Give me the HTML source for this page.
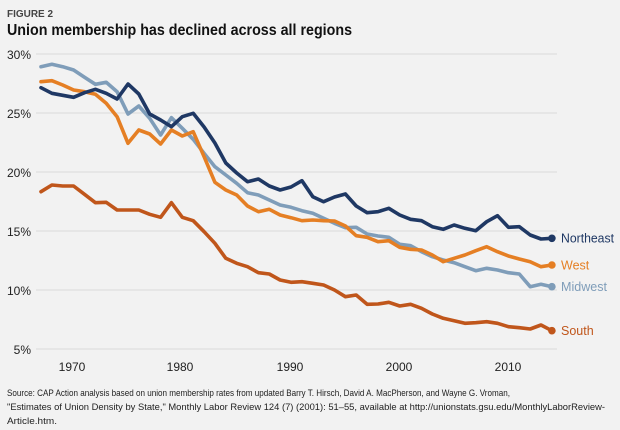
<!DOCTYPE html>
<html><head><meta charset="utf-8"><style>
html,body{margin:0;padding:0;background:#f2f2f2;}
svg{display:block;font-family:"Liberation Sans",sans-serif;}
</style></head><body>
<svg width="620" height="430" viewBox="0 0 620 430" xmlns="http://www.w3.org/2000/svg">
<rect width="620" height="430" fill="#f2f2f2"/>
<text x="7" y="17" font-size="10" font-weight="bold" fill="#444" textLength="46" lengthAdjust="spacingAndGlyphs">FIGURE 2</text>
<text x="7" y="35" font-size="16" font-weight="bold" fill="#111" textLength="345" lengthAdjust="spacingAndGlyphs">Union membership has declined across all regions</text>
<g stroke="#d9d9d9" stroke-width="1">
<line x1="36" y1="54" x2="557" y2="54"/><line x1="36" y1="113" x2="557" y2="113"/>
<line x1="36" y1="172" x2="557" y2="172"/><line x1="36" y1="231" x2="557" y2="231"/>
<line x1="36" y1="290" x2="557" y2="290"/><line x1="36" y1="349" x2="557" y2="349"/>
</g>
<g font-size="12" fill="#222" text-anchor="end">
<text x="31" y="59">30%</text><text x="31" y="118">25%</text><text x="31" y="177">20%</text>
<text x="31" y="236">15%</text><text x="31" y="295">10%</text><text x="31" y="354">5%</text>
</g>
<g font-size="12" fill="#222" text-anchor="middle">
<text x="72" y="371">1970</text><text x="180" y="371">1980</text><text x="290" y="371">1990</text>
<text x="399" y="371">2000</text><text x="508" y="371">2010</text>
</g>
<g fill="none" stroke-width="3.6" stroke-linejoin="round" stroke-linecap="round">
<polyline stroke="#c0561b" points="41,191.7 51.9,185 62.7,186 73.6,186 84.5,194.3 95.4,202.7 106.2,202.3 117.1,210 128,210 138.8,210 149.7,214.3 160.6,217.3 171.4,202.7 182.3,217.3 193.2,220.7 204.1,231.7 214.9,243.3 225.8,258.3 236.7,263.3 247.5,266.7 258.4,272.7 269.3,274 280.1,280 291,282.3 301.9,281.7 312.8,283.3 323.6,285 334.5,290 345.4,296.7 356.2,295 367.1,304.3 378,304 388.8,302.3 399.7,306 410.6,304.3 421.5,308.3 432.3,314 443.2,318.3 454.1,320.7 464.9,323.3 475.8,322.7 486.7,321.7 497.5,323.3 508.4,326.7 519.3,327.7 530.2,329 541,325 551.9,330.7"/>
<polyline stroke="#7f9db9" points="41,66.7 51.9,64.3 62.7,66.7 73.6,70 84.5,77.3 95.4,84.3 106.2,82.3 117.1,91.7 128,114 138.8,106 149.7,118.3 160.6,135 171.4,117.7 182.3,128.3 193.2,139.3 204.1,153.3 214.9,166.7 225.8,175 236.7,183.3 247.5,192.7 258.4,195 269.3,200 280.1,205 291,207.3 301.9,210.7 312.8,213.3 323.6,218.3 334.5,223.3 345.4,227.7 356.2,227.3 367.1,234 378,236 388.8,237.3 399.7,244.3 410.6,245.7 421.5,251.7 432.3,256.7 443.2,260 454.1,262.7 464.9,266.7 475.8,270.7 486.7,268.3 497.5,270 508.4,272.7 519.3,274 530.2,286.7 541,284.3 551.9,286.7"/>
<polyline stroke="#e57f24" points="41,81.7 51.9,80.7 62.7,85 73.6,90 84.5,91.7 95.4,94.3 106.2,103.3 117.1,116.7 128,143.3 138.8,130 149.7,134 160.6,144 171.4,130 182.3,136 193.2,131.7 204.1,156.7 214.9,182.3 225.8,190 236.7,195 247.5,206 258.4,211.7 269.3,209.3 280.1,215 291,217.7 301.9,220.7 312.8,220 323.6,220.7 334.5,221 345.4,226 356.2,235.7 367.1,237.3 378,241.7 388.8,240.7 399.7,247.3 410.6,249.3 421.5,250 432.3,255 443.2,261.7 454.1,258.3 464.9,255 475.8,250.7 486.7,246.7 497.5,251.7 508.4,256 519.3,259 530.2,261.7 541,266.7 551.9,265"/>
<polyline stroke="#1f3864" points="41,87.7 51.9,93.3 62.7,95.3 73.6,97.3 84.5,92.7 95.4,89.3 106.2,93.3 117.1,99 128,84 138.8,94 149.7,114 160.6,120 171.4,126.7 182.3,116.7 193.2,113.3 204.1,127 214.9,143 225.8,163 236.7,173 247.5,181.7 258.4,179 269.3,186 280.1,190 291,187 301.9,180.7 312.8,196.7 323.6,201.7 334.5,197 345.4,194 356.2,206 367.1,212.7 378,211.7 388.8,208.3 399.7,215 410.6,219.3 421.5,220.7 432.3,226.7 443.2,229.3 454.1,225 464.9,228.3 475.8,230.7 486.7,221.7 497.5,215.7 508.4,227.3 519.3,226.7 530.2,235 541,239 551.9,238.3"/>
</g>
<circle cx="551.9" cy="238.3" r="3.8" fill="#1f3864"/>
<circle cx="551.9" cy="265" r="3.8" fill="#e57f24"/>
<circle cx="551.9" cy="286.7" r="3.8" fill="#7f9db9"/>
<circle cx="551.9" cy="330.7" r="3.8" fill="#c0561b"/>
<g font-size="12.5">
<text x="561" y="242.5" fill="#1f3864" textLength="53" lengthAdjust="spacingAndGlyphs">Northeast</text>
<text x="561" y="269.5" fill="#e57f24">West</text>
<text x="561" y="291" fill="#7f9db9" textLength="46" lengthAdjust="spacingAndGlyphs">Midwest</text>
<text x="561" y="335" fill="#c0561b">South</text>
</g>
<g font-size="9.3" fill="#222">
<text x="7" y="396" textLength="503" lengthAdjust="spacingAndGlyphs">Source: CAP Action analysis based on union membership rates from updated Barry T. Hirsch, David A. MacPherson, and Wayne G. Vroman,</text>
<text x="7" y="410" textLength="598" lengthAdjust="spacingAndGlyphs">"Estimates of Union Density by State," Monthly Labor Review 124 (7) (2001): 51–55, available at http://unionstats.gsu.edu/MonthlyLaborReview-</text>
<text x="7" y="424" textLength="50" lengthAdjust="spacingAndGlyphs">Article.htm.</text>
</g>
</svg>
</body></html>
